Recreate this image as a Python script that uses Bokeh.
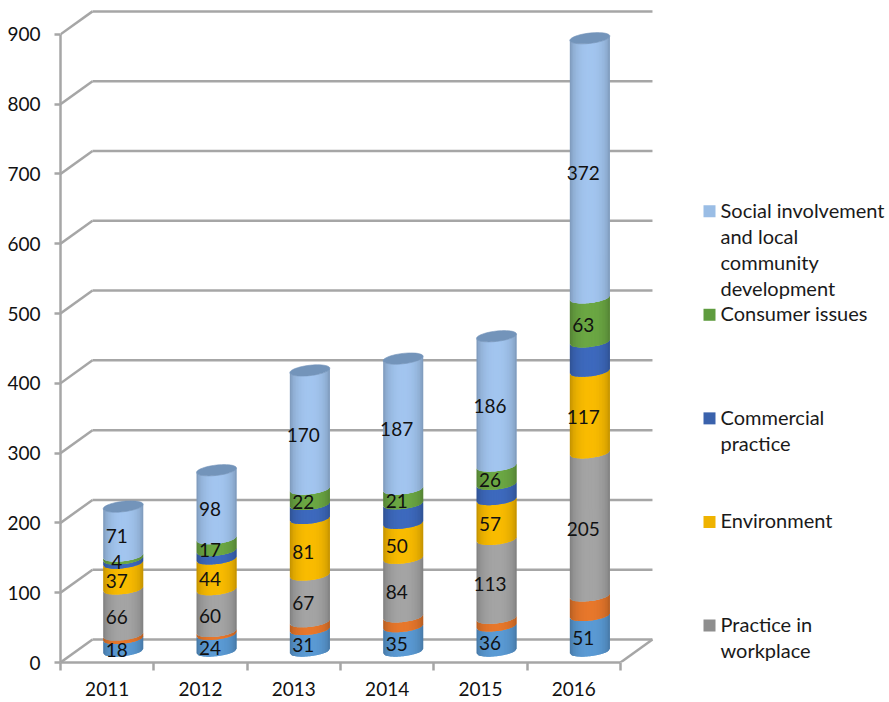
import math
from bokeh.embed import file_html
from bokeh.resources import INLINE
from bokeh.plotting import figure
from bokeh.models import ColumnDataSource, FixedTicker, Range1d
from bokeh.core.properties import value

years = ["2011", "2012", "2013", "2014", "2015", "2016"]
workplace_safety = [18, 24, 31, 35, 36, 51]
human_rights = [5, 4, 11, 14, 11, 28]
practice_workplace = [66, 60, 67, 84, 113, 205]
environment = [37, 44, 81, 50, 57, 117]
commercial = [6, 12, 20, 28, 22, 42]
consumer = [4, 17, 22, 21, 26, 63]
social = [71, 98, 170, 187, 186, 372]
y_ticks = [0, 100, 200, 300, 400, 500, 600, 700, 800, 900]
legend_entries = [
    ("Social involvement\nand local\ncommunity\ndevelopment", "#9ABDE5"),
    ("Consumer issues", "#5F9C3F"),
    ("Commercial\npractice", "#3A62AC"),
    ("Environment", "#EFB300"),
    ("Practice in\nworkplace", "#8E8E8E"),
]

series = [
    (workplace_safety, (91, 155, 213), True),
    (human_rights, (232, 120, 44), False),
    (practice_workplace, (165, 165, 165), True),
    (environment, (250, 188, 0), True),
    (commercial, (62, 106, 190), False),
    (consumer, (108, 168, 68), True),
    (social, (163, 198, 240), True),
]

# layout, in picture pixels
W, H = 885, 698
LEFT, BOTTOM, PX_BAND, PX_UNIT = 60, 663, 93.33, 0.699
FRAME_W = W - LEFT
FRAME_H = BOTTOM
DEPTH_X = 32 / PX_BAND
DEPTH_Y = 23 / PX_UNIT
HALF_W = 20 / PX_BAND
ELL_B = 5.2 / PX_UNIT
ELL_TILT = 2.2 / PX_UNIT


def x_at(px):
    return (px - LEFT) / PX_BAND


def y_at(py):
    return (BOTTOM - py) / PX_UNIT


p = figure(width=W, height=H, output_backend="svg", toolbar_location=None,
           x_range=Range1d(0, FRAME_W / PX_BAND), y_range=Range1d(0, FRAME_H / PX_UNIT),
           min_border_left=LEFT, min_border_right=0, min_border_top=0,
           min_border_bottom=H - BOTTOM)
p.outline_line_color = None
p.background_fill_color = "white"
p.grid.visible = False

GRAY = "#A6A6A6"
n = len(years)
FONT = "Lato"

# axes
ya = p.yaxis[0]
ya.ticker = FixedTicker(ticks=y_ticks)
ya.bounds = (0, 900)
ya.axis_line_color = GRAY
ya.axis_line_width = 2.5
ya.major_tick_line_color = GRAY
ya.major_tick_line_width = 2.5
ya.major_tick_out = 6
ya.major_tick_in = 0
ya.minor_tick_line_color = None
ya.major_label_text_font = FONT
ya.major_label_text_font_size = "19px"
ya.major_label_text_color = "#111111"
ya.major_label_standoff = 14

xa = p.xaxis[0]
mids = [i + 0.5 for i in range(n)]
xa.ticker = FixedTicker(ticks=mids, minor_ticks=list(range(n + 1)))
xa.major_label_overrides = {m: y for m, y in zip(mids, years)}
xa.bounds = (0, n)
xa.axis_line_color = GRAY
xa.axis_line_width = 2.5
xa.major_tick_line_color = None
xa.major_tick_out = 8
xa.major_tick_in = 0
xa.minor_tick_line_color = GRAY
xa.minor_tick_line_width = 2.5
xa.minor_tick_out = 8
xa.minor_tick_in = 0
xa.major_label_text_font = FONT
xa.major_label_text_font_size = "19px"
xa.major_label_text_color = "#111111"
xa.major_label_standoff = 11

# 3D walls
p.segment([DEPTH_X] * len(y_ticks), [t + DEPTH_Y for t in y_ticks],
          [n + DEPTH_X] * len(y_ticks), [t + DEPTH_Y for t in y_ticks],
          line_color=GRAY, line_width=2.5)
p.segment([0] * len(y_ticks), y_ticks, [DEPTH_X] * len(y_ticks),
          [t + DEPTH_Y for t in y_ticks], line_color=GRAY, line_width=2.5)
p.segment([n], [0], [n + DEPTH_X], [DEPTH_Y], line_color=GRAY, line_width=2.5)

# cylinders: shaded strips per stacked segment, each one overlapped by the next
STRIPS = 26


def shade(rgb, u):
    f = 0.72 + 0.28 * math.sqrt(max(0.0, 1 - u * u))
    return "#%02x%02x%02x" % tuple(min(255, int(c * f)) for c in rgb)


def arc(u):
    return -ELL_B * math.sqrt(max(0.0, 1 - u * u)) + ELL_TILT * u


xs, ys, colors = [], [], []
label_x, label_y, label_text = [], [], []
lid_x, lid_y = [], []
for i in range(n):
    cx = i + 0.5 + DEPTH_X / 2
    cy = DEPTH_Y / 2
    base = 0
    for vals, rgb, labelled in series:
        v = vals[i]
        for s in range(STRIPS):
            u0 = -1 + 2 * s / STRIPS
            u1 = -1 + 2 * (s + 1) / STRIPS
            u2 = min(1.0, u1 + 2 / STRIPS)
            us = [u0, u1, u2]
            xs.append([cx + HALF_W * a for a in us] + [cx + HALF_W * a for a in reversed(us)])
            ys.append([cy + base + arc(a) for a in us] +
                      [cy + base + v + arc(a) for a in reversed(us)])
            colors.append(shade(rgb, (u0 + u1) / 2))
        if labelled:
            label_x.append(cx - 6.5 / PX_BAND)
            label_y.append(cy + base + v / 2 - 5 / PX_UNIT)
            label_text.append(str(v))
        base += v
    ts = [2 * math.pi * k / 48 for k in range(48)]
    lid_x.append([cx + HALF_W * math.cos(t) for t in ts])
    lid_y.append([cy + base + ELL_TILT * math.cos(t) + ELL_B * math.sin(t) for t in ts])

src = ColumnDataSource(dict(xs=xs, ys=ys, c=colors))
p.patches("xs", "ys", source=src, fill_color="c", line_color=None)
p.patches(lid_x, lid_y, fill_color="#7394BA", line_color="#7394BA", line_width=0.6)

p.text(label_x, label_y, text=label_text, text_align="center", text_baseline="middle",
       text_font=value(FONT), text_font_size="19px", text_color="#111111")

# legend
lx, ly, lt, sq_x, sq_y, sq_c = [], [], [], [], [], []
for k, (label, col) in enumerate(legend_entries):
    top = 209.5 + 103.75 * k
    sq_x.append(x_at(709))
    sq_y.append(y_at(top + 1.5))
    sq_c.append(col)
    for j, line in enumerate(label.split("\n")):
        lx.append(x_at(720))
        ly.append(y_at(top + 26 * j))
        lt.append(line)
p.scatter(sq_x, sq_y, marker="square", size=12, fill_color=sq_c, line_color=None)
p.text(lx, ly, text=lt, text_align="left", text_baseline="middle",
       text_font=value(FONT), text_font_size="20px", text_color="#1a1a1a")

open("out.html", "w").write(file_html(p, INLINE))
